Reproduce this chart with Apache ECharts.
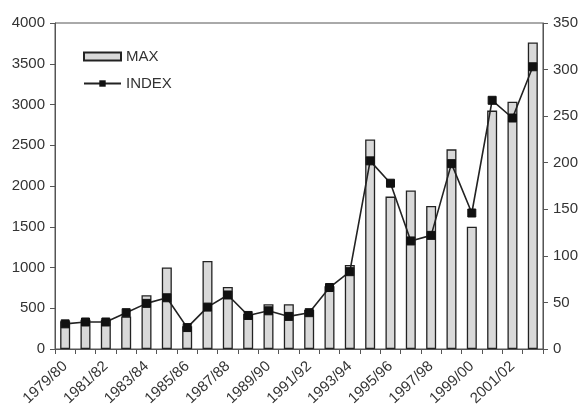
<!DOCTYPE html>
<html>
<head>
<meta charset="utf-8">
<script src="https://cdn.jsdelivr.net/npm/echarts@6/dist/echarts.min.js"></script>
<style>
html,body{margin:0;padding:0;background:#fff;}
#chart{width:581px;height:412px;}
</style>
</head>
<body>
<div id="chart"></div>
<script>
var categories = ['1979/80','1980/81','1981/82','1982/83','1983/84','1984/85','1985/86','1986/87','1987/88','1988/89','1989/90','1990/91','1991/92','1992/93','1993/94','1994/95','1995/96','1996/97','1997/98','1998/99','1999/00','2000/01','2001/02','2002/03'];
var maxValues = [340,360,360,400,660,1000,280,1080,760,430,550,550,480,770,1030,2570,1870,1945,1755,2450,1500,2925,3035,3760];
var indexValues = [27,29,29,39,49,55,23,45,58,36,41,35,39,66,83,202,178,116,122,199,146,267,248,303];
var leftTicks = {min:0, max:4000, interval:500};
var rightTicks = {min:0, max:350, interval:50};

var font = 'Liberation Sans';
var txt = '#333';
var axisCol = '#555';
var fs = 15;
var chart = echarts.init(document.getElementById('chart'), null, {renderer:'canvas'});
chart.setOption({
  animation:false,
  backgroundColor:'#fff',
  textStyle:{fontFamily:font},
  grid:{left:55,right:38,top:23,bottom:63,show:true,borderColor:axisCol,borderWidth:1,backgroundColor:'transparent'},
  legend:{
    orient:'vertical', left:78, top:44, itemWidth:37, itemHeight:8, itemGap:12,
    textStyle:{fontFamily:font,fontSize:fs,color:txt},
    data:[{name:'MAX',icon:'rect'},{name:'INDEX'}]
  },
  xAxis:{
    type:'category', data:categories, boundaryGap:true,
    axisLine:{lineStyle:{color:axisCol,width:1}},
    axisTick:{show:true,alignWithLabel:false,interval:0,length:5,lineStyle:{color:axisCol}},
    axisLabel:{interval:1,rotate:43,margin:15,fontFamily:font,fontSize:fs,color:txt},
    splitLine:{show:false}
  },
  yAxis:[{
    type:'value', min:leftTicks.min, max:leftTicks.max, interval:leftTicks.interval,
    axisLine:{show:true,lineStyle:{color:axisCol}},
    axisTick:{show:true,length:5,lineStyle:{color:axisCol}},
    axisLabel:{margin:10,fontFamily:font,fontSize:fs,color:txt,formatter:function(v){return String(v);}},
    splitLine:{show:false}
  },{
    type:'value', position:'right', min:rightTicks.min, max:rightTicks.max, interval:rightTicks.interval,
    axisLine:{show:true,lineStyle:{color:axisCol}},
    axisTick:{show:true,length:5,lineStyle:{color:axisCol}},
    axisLabel:{margin:10,fontFamily:font,fontSize:fs,color:txt,formatter:function(v){return String(v);}},
    splitLine:{show:false}
  }],
  series:[{
    name:'MAX', type:'bar', data:maxValues, barWidth:10, yAxisIndex:0,
    itemStyle:{color:'#d9d9d9',borderColor:'#222',borderWidth:1.3}
  },{
    name:'INDEX', type:'line', data:indexValues, yAxisIndex:1,
    symbol:'rect', symbolSize:8, showAllSymbol:true,
    lineStyle:{color:'#222',width:1.6},
    itemStyle:{color:'#111',borderColor:'#111'},
    z:5
  }]
});
</script>
</body>
</html>
